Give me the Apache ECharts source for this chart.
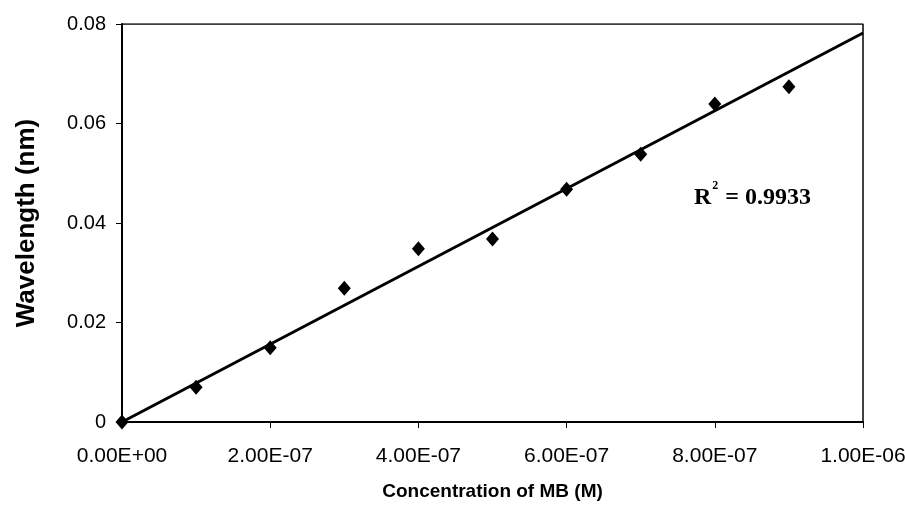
<!DOCTYPE html>
<html>
<head>
<meta charset="utf-8">
<script src="https://cdn.jsdelivr.net/npm/echarts@6/dist/echarts.min.js"></script>
<style>
  html, body { margin: 0; padding: 0; background: #fff; }
  #main { width: 905px; height: 519px; }
</style>
</head>
<body>
<div id="main"></div>
<script>
// measured points (concentration in M, wavelength shift in nm)
var concentration = [0, 1e-7, 2e-7, 3e-7, 4e-7, 5e-7, 6e-7, 7e-7, 8e-7, 9e-7];
var wavelength = [0, 0.0070, 0.0149, 0.0269, 0.0348, 0.0368, 0.0468, 0.0538, 0.0639, 0.0674];
// linear trendline end points
var trendX = [0, 1e-6];
var trendY = [0, 0.0782];
var r2Value = '0.9933';

var points = concentration.map(function (c, i) { return [c, wavelength[i]]; });
var trend = trendX.map(function (c, i) { return [c, trendY[i]]; });

function sciLabel(v) {
    // Excel style: 2.00E-07
    var s = Number(v).toExponential(2).toUpperCase();
    var parts = s.split('E');
    var exp = parseInt(parts[1], 10);
    var sign = exp < 0 ? '-' : '+';
    var abs = Math.abs(exp);
    return parts[0] + 'E' + sign + (abs < 10 ? '0' + abs : abs);
}

var labelFont = 'Liberation Sans';

var chart = echarts.init(document.getElementById('main'));
chart.setOption({
    backgroundColor: '#fff',
    animation: false,
    grid: { left: 122, right: 42, top: 24, bottom: 97, containLabel: false, outerBoundsMode: 'none' },
    xAxis: {
        type: 'value',
        min: 0,
        max: 1e-6,
        interval: 2e-7,
        name: 'Concentration of MB (M)',
        nameLocation: 'middle',
        nameGap: 60,
        nameTextStyle: { fontFamily: labelFont, fontWeight: 'bold', fontSize: 19, color: '#000' },
        axisLine: { show: true, onZero: false, lineStyle: { color: '#000', width: 2 } },
        axisTick: { show: true, inside: false, length: 6, lineStyle: { color: '#000' } },
        axisLabel: {
            formatter: sciLabel, margin: 24, color: '#000',
            fontFamily: labelFont, fontSize: 21
        },
        splitLine: { show: false }
    },
    yAxis: {
        type: 'value',
        min: 0,
        max: 0.08,
        interval: 0.02,
        name: 'Wavelength (nm)',
        nameLocation: 'middle',
        nameGap: 82,
        nameTextStyle: { fontFamily: labelFont, fontWeight: 'bold', fontSize: 26, color: '#000' },
        axisLine: { show: true, onZero: false, lineStyle: { color: '#000', width: 2 } },
        axisTick: { show: true, inside: false, length: 6, lineStyle: { color: '#000' } },
        axisLabel: {
            margin: 16, color: '#000',
            fontFamily: labelFont, fontSize: 20
        },
        splitLine: { show: false }
    },
    series: [
        {
            type: 'line',
            data: trend,
            symbol: 'none',
            lineStyle: { color: '#000', width: 3 },
            z: 2
        },
        {
            type: 'scatter',
            data: points,
            symbol: 'diamond',
            symbolSize: [13, 15],
            itemStyle: { color: '#000', opacity: 1 },
            z: 3
        },
        {
            // plot frame (top and right edges)
            type: 'line',
            data: [[0, 0.08], [1e-6, 0.08], [1e-6, 0]],
            symbol: 'none',
            lineStyle: { color: '#000', width: 1.5 },
            silent: true,
            z: 1
        }
    ],
    graphic: [{
        type: 'text',
        left: 694,
        top: 180,
        style: {
            text: '{r|R}{s|2}{r| = ' + r2Value + '}',
            fontFamily: 'Liberation Serif',
            fontWeight: 'bold',
            fill: '#000',
            rich: {
                r: { fontSize: 24, fontFamily: 'Liberation Serif', fontWeight: 'bold', color: '#000', verticalAlign: 'bottom', lineHeight: 30 },
                s: { fontSize: 12, fontFamily: 'Liberation Serif', fontWeight: 'bold', color: '#000', verticalAlign: 'top', lineHeight: 30, padding: [0, 1, 0, 1] }
            }
        }
    }]
});
</script>
</body>
</html>
